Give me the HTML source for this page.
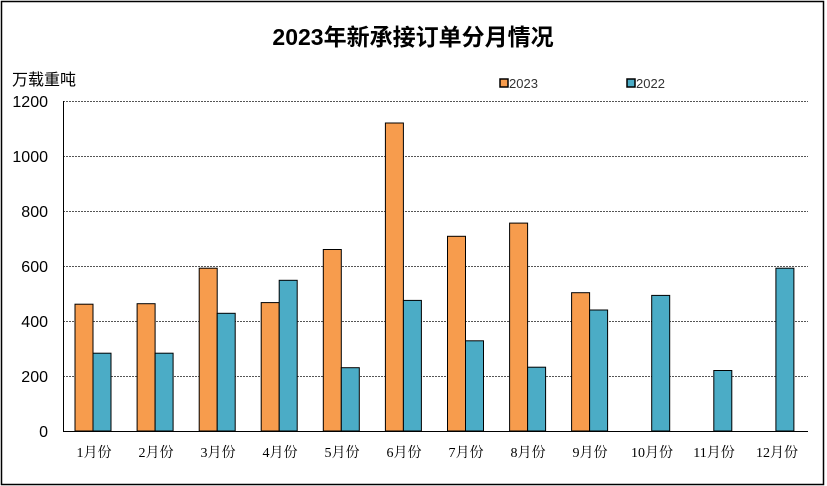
<!DOCTYPE html><html><head><meta charset="utf-8"><style>body{margin:0;background:#fff}svg{display:block}</style></head><body>
<svg width="827" height="486" xmlns="http://www.w3.org/2000/svg" font-family="Liberation Sans, Noto Sans CJK SC, sans-serif">
<rect x="1.5" y="1.5" width="822" height="483" fill="#fff" stroke="#000" stroke-width="1.5"/>
<text x="413" y="45" font-size="23" font-weight="bold" text-anchor="middle" font-family="Liberation Sans, Noto Sans CJK SC, sans-serif">2023年新承接订单分月情况</text>
<text x="12" y="85" font-size="16">万载重吨</text>
<g stroke="#555" stroke-width="1" stroke-dasharray="2,1">
<line x1="63" x2="808" y1="101.5" y2="101.5"/><line x1="63" x2="808" y1="156.5" y2="156.5"/><line x1="63" x2="808" y1="211.5" y2="211.5"/><line x1="63" x2="808" y1="266.5" y2="266.5"/><line x1="63" x2="808" y1="321.5" y2="321.5"/><line x1="63" x2="808" y1="376.5" y2="376.5"/></g>
<line x1="63.5" x2="63.5" y1="101" y2="431" stroke="#000"/>
<line x1="63" x2="808" y1="431.5" y2="431.5" stroke="#000"/>
<g font-size="16" text-anchor="end"><text x="48" y="107">1200</text><text x="48" y="162">1000</text><text x="48" y="217">800</text><text x="48" y="272">600</text><text x="48" y="327">400</text><text x="48" y="382">200</text><text x="48" y="437">0</text></g>
<g stroke="#000" stroke-width="1">
<g fill="#f79c4d">
<rect x="75" y="304.2" width="18" height="126.8"/><rect x="137.1" y="303.7" width="18" height="127.3"/><rect x="199.2" y="268.2" width="18" height="162.8"/><rect x="261.2" y="302.6" width="18" height="128.4"/><rect x="323.3" y="249.5" width="18" height="181.5"/><rect x="385.4" y="123" width="18" height="308"/><rect x="447.5" y="236.3" width="18" height="194.7"/><rect x="509.6" y="223.1" width="18" height="207.9"/><rect x="571.6" y="292.7" width="18" height="138.3"/></g>
<g fill="#4bacc6">
<rect x="93" y="353.2" width="18" height="77.8"/><rect x="155.1" y="353.2" width="18" height="77.8"/><rect x="217.2" y="313.3" width="18" height="117.7"/><rect x="279.2" y="280.3" width="18" height="150.7"/><rect x="341.3" y="367.7" width="18" height="63.3"/><rect x="403.4" y="300.4" width="18" height="130.6"/><rect x="465.5" y="340.8" width="18" height="90.2"/><rect x="527.6" y="367.2" width="18" height="63.8"/><rect x="589.6" y="310" width="18" height="121"/><rect x="651.7" y="295.4" width="18" height="135.6"/><rect x="713.8" y="370.5" width="18" height="60.5"/><rect x="775.9" y="268.2" width="18" height="162.8"/></g>
<rect x="500" y="79" width="8" height="8" fill="#f79c4d" stroke-width="1.5"/><rect x="627" y="79" width="8" height="8" fill="#4bacc6" stroke-width="1.5"/>
</g>
<g font-size="13" fill="#333"><text x="509" y="88">2023</text><text x="636" y="88">2022</text></g>
<g font-size="14" text-anchor="middle" font-family="Liberation Serif, Noto Serif CJK SC, serif">
<text x="94" y="457">1月份</text><text x="156" y="457">2月份</text><text x="218" y="457">3月份</text><text x="280" y="457">4月份</text><text x="342" y="457">5月份</text><text x="404" y="457">6月份</text><text x="466" y="457">7月份</text><text x="528" y="457">8月份</text><text x="590" y="457">9月份</text><text x="652" y="457">10月份</text><text x="714" y="457">11月份</text><text x="777" y="457">12月份</text></g>
</svg></body></html>
